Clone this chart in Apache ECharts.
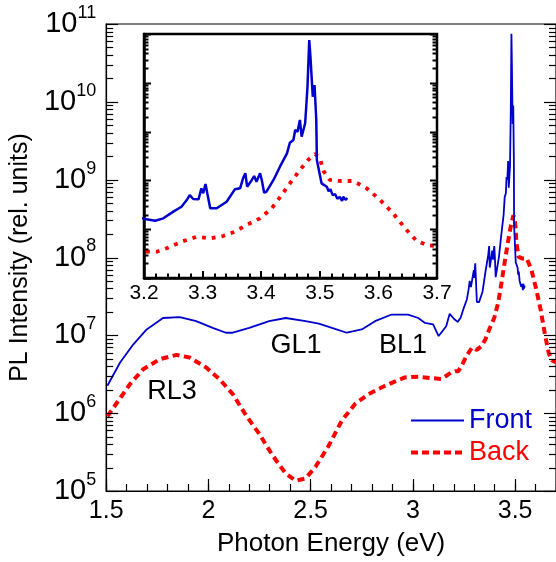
<!DOCTYPE html>
<html><head><meta charset="utf-8">
<script src="https://cdn.jsdelivr.net/npm/echarts@6/dist/echarts.min.js"></script>
<style>html,body{margin:0;padding:0;background:#fff}#c{width:556px;height:562px}</style>
</head><body><div id="c"></div>
<script>
// ---- data ----
const frontEnergy = [1.506,1.568,1.633,1.698,1.778,1.86,1.94,2.021,2.086,2.119,2.2,2.297,2.378,2.475,2.54,2.604,2.677,2.75,2.815,2.896,2.977,3.026,3.058,3.099,3.126,3.163,3.18,
  3.2017,3.219,3.233,3.25,3.264,3.273,3.278,3.284,3.293,3.298,3.301,3.305,3.308,3.313,3.324,3.341,3.355,3.364,3.369,3.373,3.376,3.384,3.388,3.392,3.398,3.401,3.405,3.409,3.421,3.432,3.444,3.449,3.455,3.458,3.462,3.466,3.469,3.475,3.479,3.482,3.484,3.488,3.491,3.494,3.495,3.499,3.503,3.512,3.515,3.518,3.522,3.526,3.53,3.534,3.538,3.54,3.544,3.547];
const frontIntensity = [2.25e6,4.47e6,7.66e6,1.19e7,1.67e7,1.71e7,1.52e7,1.25e7,1.08e7,1.08e7,1.25e7,1.52e7,1.67e7,1.52e7,1.41e7,1.25e7,1.08e7,1.19e7,1.52e7,1.85e7,1.85e7,1.67e7,1.45e7,1.38e7,9.8e6,1.31e7,1.89e7,
  1.62e7,1.49e7,1.67e7,2.29e7,2.89e7,3.96e7,5.0e7,4.16e7,4.09e7,6.89e7,5.45e7,8.43e7,5.45e7,2.68e7,2.68e7,3.66e7,6.56e7,6.89e7,1.10e8,1.40e8,7.43e7,1.02e8,1.23e8,9.4e7,1.40e8,1.02e8,5.6e7,5.86e7,1.02e8,1.91e8,3.59e8,5.93e8,6.73e8,1.08e9,9.95e8,1.73e9,7.87e8,1.48e9,8.3e9,7.5e10,3.43e10,5.19e9,9.0e9,1.73e9,2.62e8,1.51e8,8.7e7,7.43e7,6.0e7,6.6e7,5.0e7,5.25e7,4.2e7,4.6e7,3.8e7,4.6e7,4.0e7,4.36e7];
const backEnergy = [1.506,1.56,1.617,1.681,1.762,1.844,1.908,1.989,2.054,2.119,2.184,2.248,2.313,2.378,2.427,2.475,2.524,2.588,2.653,2.718,2.783,2.864,2.961,3.026,3.139,3.188,
  3.207,3.222,3.241,3.264,3.29,3.313,3.335,3.355,3.375,3.398,3.418,3.435,3.449,3.466,3.48,3.492,3.5,3.507,3.517,3.534,3.557,3.58,3.603,3.625,3.648,3.665,3.682,3.699];
const backIntensity = [9.08e5,1.45e6,2.37e6,3.67e6,4.93e6,5.61e6,5.18e6,3.86e6,2.74e6,1.76e6,9.35e5,5.45e5,2.88e5,1.68e5,1.36e5,1.45e5,2.05e5,3.8e5,8.07e5,1.32e6,1.76e6,2.25e6,2.88e6,2.94e6,2.74e6,3.33e6,
  3.46e6,3.46e6,4.18e6,5.55e6,7.0e6,6.5e6,7.24e6,8.89e6,1.22e7,1.67e7,2.68e7,5.02e7,8.7e7,1.63e8,2.62e8,3.48e8,2.84e8,1.51e8,1.02e8,9.73e7,9.73e7,6.89e7,3.96e7,2.12e7,9.64e6,5.81e6,4.74e6,4.53e6];
const mainXLabels = ['1.5','2','2.5','3','3.5'];
const insetXLabels = ['3.2','3.3','3.4','3.5','3.6','3.7'];
const mainDecades = [5,6,7,8,9,10,11];
const insetDecades = [6,7,8,9,10,11];
const annotations = [{text:'RL3'},{text:'GL1'},{text:'BL1'}];

// ---- helpers ----
const FONT = '"Liberation Sans", Arial, sans-serif';
const BLUE = '#0000cc', RED = '#ff0000';
const pair = (xs, ys) => xs.map((x, i) => [x, ys[i]]);
function logTicks(decades, xRef) {
  const out = [];
  for (let d = 0; d < decades.length; d++) {
    const e = decades[d];
    out.push([xRef, Math.pow(10, e), 1]);
    if (d < decades.length - 1) for (let k = 2; k <= 9; k++) out.push([xRef, k * Math.pow(10, e), 0]);
  }
  return out;
}
function tickRenderer(majorLen, minorLen, width) {
  return function (params, api) {
    const cs = params.coordSys;
    const y = Math.round(api.coord([api.value(0), api.value(1)])[1]) + 0.5;
    const len = api.value(2) === 1 ? majorLen : minorLen;
    const st = { stroke: '#000', lineWidth: width };
    return { type: 'group', children: [
      { type: 'line', shape: { x1: cs.x, y1: y, x2: cs.x + len, y2: y }, style: st },
      { type: 'line', shape: { x1: cs.x + cs.width, y1: y, x2: cs.x + cs.width - len, y2: y }, style: st }
    ]};
  };
}
const supLabel = v => { const e = Math.round(Math.log10(v)); return '{b|10}{s|' + e + '}'; };

const chart = echarts.init(document.getElementById('c'), null, { renderer: 'canvas' });
chart.setOption({
  animation: false,
  backgroundColor: '#fff',
  textStyle: { fontFamily: FONT },
  grid: [
    { left: 106, top: 24, right: -3, bottom: 68, show: true, borderColor: '#000', borderWidth: 1.2, containLabel: false },
    { left: 144, top: 34, width: 293, height: 244, show: true, borderColor: '#000', borderWidth: 2.5, containLabel: false }
  ],
  xAxis: [
    { gridIndex: 0, type: 'value', position: 'bottom', min: 1.5, max: 3.7, interval: 0.5,
      axisLine: { lineStyle: { color: '#000', width: 1.2 } },
      axisTick: { inside: true, length: 12, lineStyle: { color: '#000', width: 1.2 } },
      splitLine: { show: false },
      axisLabel: { fontSize: 25, color: '#000', margin: 8, fontFamily: FONT, showMaxLabel: false,
        formatter: v => { const i = Math.round((v - 1.5) / 0.5); return (Math.abs(v - 1.5 - i * 0.5) < 1e-6 && mainXLabels[i]) ? mainXLabels[i] : ''; } },
      name: 'Photon Energy (eV)', nameLocation: 'middle', nameGap: 40,
      nameTextStyle: { fontSize: 26, color: '#000', fontFamily: FONT } },
    { gridIndex: 0, type: 'value', position: 'bottom', min: 1.5, max: 3.7, interval: 0.1,
      axisLine: { show: false }, axisLabel: { show: false }, splitLine: { show: false },
      axisTick: { inside: true, length: 7, lineStyle: { color: '#000', width: 1.2 } } },
    { gridIndex: 1, type: 'value', position: 'bottom', min: 3.2, max: 3.7, interval: 0.1,
      axisLine: { lineStyle: { color: '#000', width: 2.5 } },
      axisTick: { inside: true, length: 7, lineStyle: { color: '#000', width: 2 } },
      minorTick: { show: true, splitNumber: 5, length: 4.5, lineStyle: { color: '#000', width: 2 } },
      splitLine: { show: false }, minorSplitLine: { show: false },
      axisLabel: { fontSize: 21, color: '#000', margin: 5, fontFamily: FONT,
        formatter: v => { const i = Math.round((v - 3.2) / 0.1); return insetXLabels[i] || ''; } } }
  ],
  yAxis: [
    { gridIndex: 0, type: 'log', logBase: 10, min: 1e5, max: 1e11,
      axisLine: { lineStyle: { color: '#000', width: 1.2 } },
      axisTick: { show: false }, splitLine: { show: false },
      axisLabel: { margin: 10, color: '#000', formatter: supLabel,
        rich: { b: { fontSize: 29, fontFamily: FONT, color: '#000', lineHeight: 40 },
                s: { fontSize: 18, fontFamily: FONT, color: '#000', verticalAlign: 'top' } } },
      name: 'PL Intensity (rel. units)', nameLocation: 'middle', nameGap: 65,
      nameTextStyle: { fontSize: 25, color: '#000', fontFamily: FONT } },
    { gridIndex: 1, type: 'log', logBase: 10, min: 1e6, max: 1e11,
      axisLine: { lineStyle: { color: '#000', width: 2.5 } },
      axisTick: { show: false }, axisLabel: { show: false }, splitLine: { show: false } }
  ],
  legend: {
    orient: 'vertical', left: 409, top: 407, padding: 0, itemWidth: 53, itemHeight: 14, itemGap: 5,
    selectedMode: false,
    itemStyle: { opacity: 0 },
    textStyle: { fontSize: 27, fontFamily: FONT },
    data: [
      { name: 'Front', textStyle: { color: BLUE }, lineStyle: { width: 2, color: BLUE } },
      { name: 'Back', textStyle: { color: RED }, lineStyle: { width: 4, color: RED, type: [7, 4] } }
    ]
  },
  series: [
    { name: 'Front', type: 'line', xAxisIndex: 0, yAxisIndex: 0, data: pair(frontEnergy, frontIntensity),
      symbol: 'none', lineStyle: { color: BLUE, width: 1.8 }, itemStyle: { color: BLUE }, z: 3 },
    { name: 'Back', type: 'line', xAxisIndex: 0, yAxisIndex: 0, data: pair(backEnergy, backIntensity),
      symbol: 'none', lineStyle: { color: RED, width: 4, type: [7, 4.5] }, itemStyle: { color: RED }, z: 2 },
    { name: 'Front', type: 'line', xAxisIndex: 2, yAxisIndex: 1, data: pair(frontEnergy, frontIntensity),
      symbol: 'none', lineStyle: { color: BLUE, width: 2.5 }, itemStyle: { color: BLUE }, z: 3 },
    { name: 'Back', type: 'line', xAxisIndex: 2, yAxisIndex: 1, data: pair(backEnergy, backIntensity),
      symbol: 'none', lineStyle: { color: RED, width: 3.8, type: [3.8, 6] }, itemStyle: { color: RED }, z: 2 },
    { name: 'ticksMain', type: 'custom', xAxisIndex: 0, yAxisIndex: 0, data: logTicks(mainDecades, 2),
      renderItem: tickRenderer(12, 7, 1.2), silent: true, clip: false, z: 5 },
    { name: 'ticksInset', type: 'custom', xAxisIndex: 2, yAxisIndex: 1, data: logTicks(insetDecades, 3.4),
      renderItem: tickRenderer(7, 4.5, 2), silent: true, clip: false, z: 5 }
  ],
  graphic: [
    { type: 'text', x: 172, y: 392, style: { text: annotations[0].text, font: '27px ' + FONT, fill: '#000', align: 'center', verticalAlign: 'middle' } },
    { type: 'text', x: 296, y: 346, style: { text: annotations[1].text, font: '27px ' + FONT, fill: '#000', align: 'center', verticalAlign: 'middle' } },
    { type: 'text', x: 403, y: 346, style: { text: annotations[2].text, font: '27px ' + FONT, fill: '#000', align: 'center', verticalAlign: 'middle' } }
  ]
});
</script></body></html>
